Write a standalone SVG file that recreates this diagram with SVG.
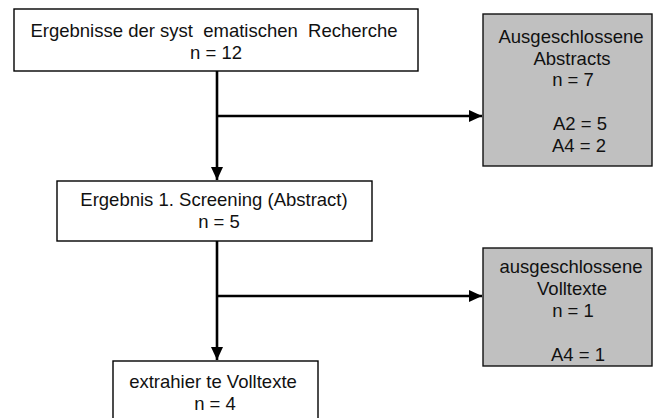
<svg xmlns="http://www.w3.org/2000/svg" width="655" height="418" viewBox="0 0 655 418">
  <style>
    .box { fill: #ffffff; stroke: #000000; stroke-width: 1.4; }
    .excl { fill: #c0c0c0; stroke: #111111; stroke-width: 1.4; }
    .lbl { font-family: "Liberation Sans", Arial, sans-serif; font-size: 18.5px; fill: #111111; text-anchor: middle; }
    .edge { fill: none; stroke: #000000; stroke-width: 2.6; }
  </style>
  <defs>
    <marker id="arrow" markerUnits="userSpaceOnUse" markerWidth="14" markerHeight="14" viewBox="0 0 14 14" refX="13" refY="7" orient="auto">
      <path d="M0,1 L13,7 L0,13 Z" fill="#000000"/>
    </marker>
  </defs>

  <rect width="655" height="418" fill="#ffffff"/>

  <!-- connectors -->
  <g id="connectors">
    <path class="edge" d="M217,71 L217,180" marker-end="url(#arrow)"/>
    <path class="edge" d="M217,116 L482,116" marker-end="url(#arrow)"/>
    <path class="edge" d="M217,241 L217,360" marker-end="url(#arrow)"/>
    <path class="edge" d="M217,296 L482,296" marker-end="url(#arrow)"/>
  </g>

  <!-- search results -->
  <g id="recherche">
    <rect class="box" x="14" y="9" width="404" height="62"/>
    <text class="lbl" x="214" y="37" xml:space="preserve">Ergebnisse der syst  ematischen  Recherche</text>
    <text class="lbl" x="216" y="59">n = 12</text>
  </g>

  <!-- first screening -->
  <g id="screening">
    <rect class="box" x="57" y="181" width="315" height="60"/>
    <text class="lbl" x="214" y="206">Ergebnis 1. Screening (Abstract)</text>
    <text class="lbl" x="219" y="228">n = 5</text>
  </g>

  <!-- extracted full texts -->
  <g id="volltexte">
    <rect class="box" x="113" y="361" width="205" height="70"/>
    <text class="lbl" x="213" y="388">extrahier te Volltexte</text>
    <text class="lbl" x="215" y="410">n = 4</text>
  </g>

  <!-- excluded abstracts -->
  <g id="ausgeschlossene-abstracts">
    <rect class="excl" x="483" y="14" width="169" height="152"/>
    <text class="lbl" x="571" y="43">Ausgeschlossene</text>
    <text class="lbl" x="572" y="65">Abstracts</text>
    <text class="lbl" x="573" y="86">n = 7</text>
    <text class="lbl" x="580" y="130">A2 = 5</text>
    <text class="lbl" x="579" y="152">A4 = 2</text>
  </g>

  <!-- excluded full texts -->
  <g id="ausgeschlossene-volltexte">
    <rect class="excl" x="483" y="248" width="169" height="118"/>
    <text class="lbl" x="571" y="273">ausgeschlossene</text>
    <text class="lbl" x="572" y="295">Volltexte</text>
    <text class="lbl" x="573" y="317">n = 1</text>
    <text class="lbl" x="578" y="361">A4 = 1</text>
  </g>
</svg>
